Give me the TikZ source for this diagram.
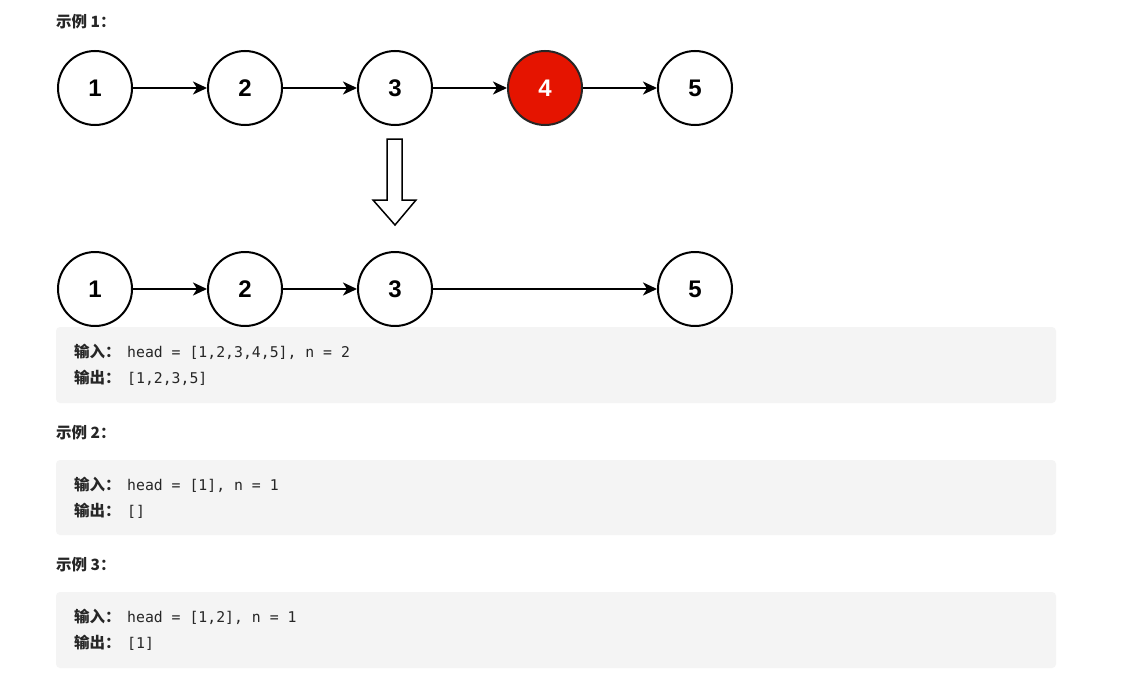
\documentclass[tikz,border=0pt]{standalone}
\usepackage{fontspec}
\setmainfont{Liberation Sans}
\newfontfamily\cjk{Noto Sans CJK SC}
\newfontfamily\mono{DejaVu Sans Mono}
\usetikzlibrary{arrows.meta}
\definecolor{txt}{HTML}{262626}
\definecolor{boxbg}{HTML}{F4F4F4}
\definecolor{redfill}{HTML}{E51400}
\tikzset{
  lnode/.style={circle, draw=black, line width=2pt, minimum size=74pt, inner sep=0pt,
    font=\fontsize{24}{24}\selectfont\bfseries, fill=white},
  rednode/.style={lnode, fill=redfill, draw=black!85, text=white},
  link/.style={line width=2pt, -{Stealth[length=14pt,width=13pt,inset=4pt]}},
  codebox/.style={fill=boxbg, draw=none, rounded corners=4pt},
  header/.style={anchor=base west, inner sep=0pt, text=txt, font=\cjk\bfseries\fontsize{15.5}{15}\selectfont},
  cjklabel/.style={anchor=base west, inner sep=0pt, text=txt, font=\cjk\bfseries\fontsize{15.5}{15}\selectfont},
  code/.style={anchor=base west, inner sep=0pt, text=txt, font=\mono\fontsize{14.8}{15}\selectfont},
  hollow/.style={draw=black, line width=1.5pt, fill=white, line join=miter}
}
\begin{document}
\begin{tikzpicture}[x=1pt,y=-1pt]
\useasboundingbox (0,0) rectangle (1147,685);
\fill[white] (0,0) rectangle (1147,685);

% Example 1 header
\node[header] (h1) at (56,27.5) {示例 1：};

% top list
\node[lnode] (a1) at (95,88) {1};
\node[lnode] (a2) at (245,88) {2};
\node[lnode] (a3) at (395,88) {3};
\node[rednode] (a4) at (545,88) {4};
\node[lnode] (a5) at (695,88) {5};
\draw[link] (a1) -- (a2);
\draw[link] (a2) -- (a3);
\draw[link] (a3) -- (a4);
\draw[link] (a4) -- (a5);

% hollow down arrow
\draw[hollow] (387,139) -- (402,139) -- (402,200) -- (416,200) -- (395,225) -- (373,200) -- (387,200) -- cycle;

% bottom list
\node[lnode] (b1) at (95,289) {1};
\node[lnode] (b2) at (245,289) {2};
\node[lnode] (b3) at (395,289) {3};
\node[lnode] (b5) at (695,289) {5};
\draw[link] (b1) -- (b2);
\draw[link] (b2) -- (b3);
\draw[link] (b3) -- (b5);

% box 1
\fill[codebox] (56,327) rectangle (1056,403);
\node[cjklabel] (i1) at (74,357.5) {输入：};
\node[code] (ci1) at (127,357.5) {head = [1,2,3,4,5], n = 2};
\node[cjklabel] (o1) at (74,383) {输出：};
\node[code] (co1) at (127,383) {[1,2,3,5]};

% Example 2
\node[header] (h2) at (56,438.5) {示例 2：};
\fill[codebox] (56,460) rectangle (1056,535);
\node[cjklabel] (i2) at (74,490.5) {输入：};
\node[code] (ci2) at (127,490.5) {head = [1], n = 1};
\node[cjklabel] (o2) at (74,516) {输出：};
\node[code] (co2) at (127,516) {[]};

% Example 3
\node[header] (h3) at (56,570.5) {示例 3：};
\fill[codebox] (56,592) rectangle (1056,668);
\node[cjklabel] (i3) at (74,622.5) {输入：};
\node[code] (ci3) at (127,622.5) {head = [1,2], n = 1};
\node[cjklabel] (o3) at (74,648) {输出：};
\node[code] (co3) at (127,648) {[1]};
\end{tikzpicture}
\end{document}
